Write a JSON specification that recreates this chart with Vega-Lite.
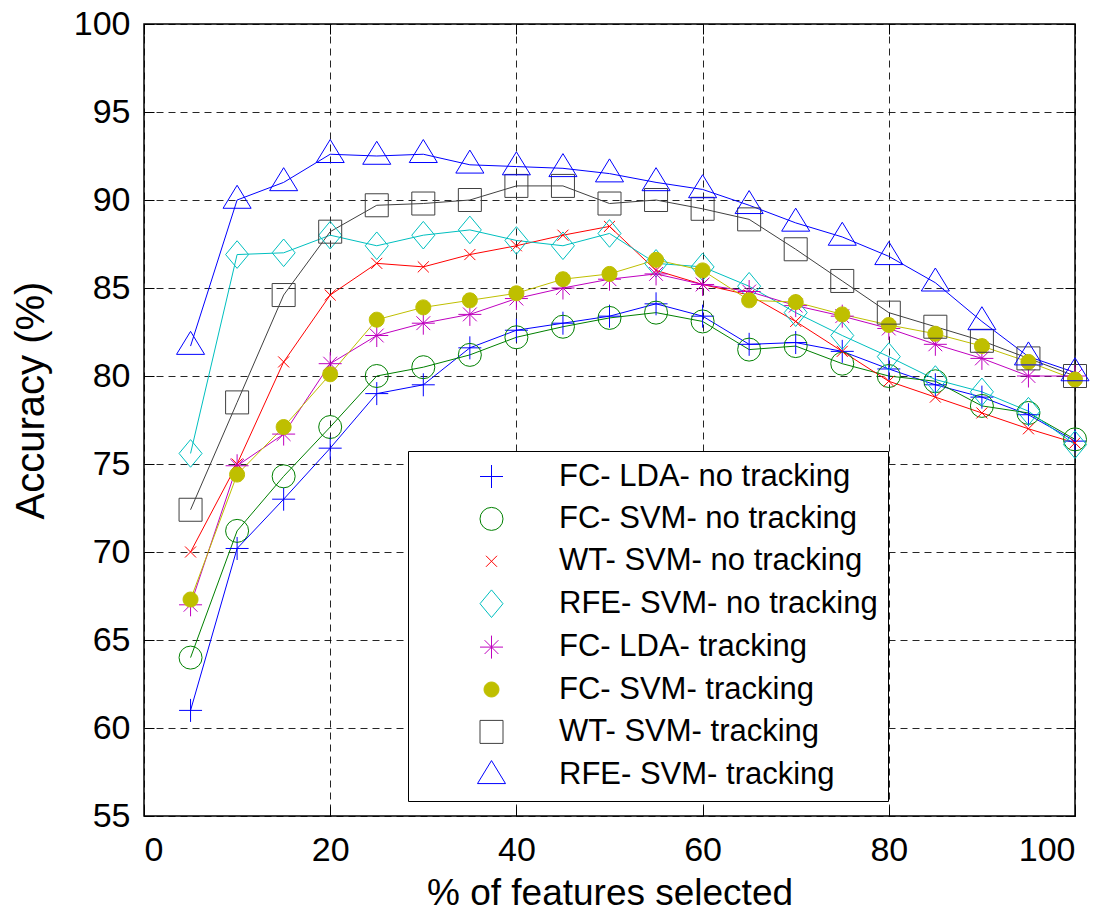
{
  "$schema": "https://vega.github.io/schema/vega-lite/v6.json",
  "width": 931,
  "height": 792,
  "autosize": {"type": "none"},
  "padding": {"left": 144, "top": 24, "right": 43, "bottom": 98},
  "background": "white",
  "config": {
    "view": {"stroke": "black", "strokeWidth": 1.5},
    "font": "Liberation Sans",
    "axis": {
      "labelFont": "Liberation Sans",
      "titleFont": "Liberation Sans",
      "labelColor": "black",
      "titleColor": "black",
      "titleFontWeight": "normal",
      "gridColor": "black",
      "gridOpacity": 0.85,
      "gridDash": [7, 5],
      "gridWidth": 1,
      "domain": false,
      "ticks": true,
      "tickColor": "black",
      "tickSize": -10,
      "tickWidth": 1
    }
  },
  "resolve": {"axis": {"x": "independent", "y": "independent"}},
  "datasets": {
    "acc": [
      {"pct": 5, "acc": 61.0, "series": "FC- LDA- no tracking"},
      {"pct": 10, "acc": 70.2, "series": "FC- LDA- no tracking"},
      {"pct": 15, "acc": 73.0, "series": "FC- LDA- no tracking"},
      {"pct": 20, "acc": 75.9, "series": "FC- LDA- no tracking"},
      {"pct": 25, "acc": 79.0, "series": "FC- LDA- no tracking"},
      {"pct": 30, "acc": 79.5, "series": "FC- LDA- no tracking"},
      {"pct": 35, "acc": 81.6, "series": "FC- LDA- no tracking"},
      {"pct": 40, "acc": 82.6, "series": "FC- LDA- no tracking"},
      {"pct": 45, "acc": 83.0, "series": "FC- LDA- no tracking"},
      {"pct": 50, "acc": 83.4, "series": "FC- LDA- no tracking"},
      {"pct": 55, "acc": 84.1, "series": "FC- LDA- no tracking"},
      {"pct": 60, "acc": 83.4, "series": "FC- LDA- no tracking"},
      {"pct": 65, "acc": 81.8, "series": "FC- LDA- no tracking"},
      {"pct": 70, "acc": 81.9, "series": "FC- LDA- no tracking"},
      {"pct": 75, "acc": 81.4, "series": "FC- LDA- no tracking"},
      {"pct": 80, "acc": 80.4, "series": "FC- LDA- no tracking"},
      {"pct": 85, "acc": 79.5, "series": "FC- LDA- no tracking"},
      {"pct": 90, "acc": 78.8, "series": "FC- LDA- no tracking"},
      {"pct": 95, "acc": 77.8, "series": "FC- LDA- no tracking"},
      {"pct": 100, "acc": 76.3, "series": "FC- LDA- no tracking"},

      {"pct": 5, "acc": 64.0, "series": "FC- SVM- no tracking"},
      {"pct": 10, "acc": 71.2, "series": "FC- SVM- no tracking"},
      {"pct": 15, "acc": 74.3, "series": "FC- SVM- no tracking"},
      {"pct": 20, "acc": 77.1, "series": "FC- SVM- no tracking"},
      {"pct": 25, "acc": 80.0, "series": "FC- SVM- no tracking"},
      {"pct": 30, "acc": 80.5, "series": "FC- SVM- no tracking"},
      {"pct": 35, "acc": 81.2, "series": "FC- SVM- no tracking"},
      {"pct": 40, "acc": 82.2, "series": "FC- SVM- no tracking"},
      {"pct": 45, "acc": 82.8, "series": "FC- SVM- no tracking"},
      {"pct": 50, "acc": 83.3, "series": "FC- SVM- no tracking"},
      {"pct": 55, "acc": 83.6, "series": "FC- SVM- no tracking"},
      {"pct": 60, "acc": 83.1, "series": "FC- SVM- no tracking"},
      {"pct": 65, "acc": 81.5, "series": "FC- SVM- no tracking"},
      {"pct": 70, "acc": 81.7, "series": "FC- SVM- no tracking"},
      {"pct": 75, "acc": 80.7, "series": "FC- SVM- no tracking"},
      {"pct": 80, "acc": 80.0, "series": "FC- SVM- no tracking"},
      {"pct": 85, "acc": 79.7, "series": "FC- SVM- no tracking"},
      {"pct": 90, "acc": 78.3, "series": "FC- SVM- no tracking"},
      {"pct": 95, "acc": 77.9, "series": "FC- SVM- no tracking"},
      {"pct": 100, "acc": 76.4, "series": "FC- SVM- no tracking"},

      {"pct": 5, "acc": 70.0, "series": "WT- SVM- no tracking"},
      {"pct": 10, "acc": 75.0, "series": "WT- SVM- no tracking"},
      {"pct": 15, "acc": 80.8, "series": "WT- SVM- no tracking"},
      {"pct": 20, "acc": 84.6, "series": "WT- SVM- no tracking"},
      {"pct": 25, "acc": 86.4, "series": "WT- SVM- no tracking"},
      {"pct": 30, "acc": 86.2, "series": "WT- SVM- no tracking"},
      {"pct": 35, "acc": 86.9, "series": "WT- SVM- no tracking"},
      {"pct": 40, "acc": 87.4, "series": "WT- SVM- no tracking"},
      {"pct": 45, "acc": 88.0, "series": "WT- SVM- no tracking"},
      {"pct": 50, "acc": 88.5, "series": "WT- SVM- no tracking"},
      {"pct": 55, "acc": 86.0, "series": "WT- SVM- no tracking"},
      {"pct": 60, "acc": 85.2, "series": "WT- SVM- no tracking"},
      {"pct": 65, "acc": 84.6, "series": "WT- SVM- no tracking"},
      {"pct": 70, "acc": 83.1, "series": "WT- SVM- no tracking"},
      {"pct": 75, "acc": 81.4, "series": "WT- SVM- no tracking"},
      {"pct": 80, "acc": 79.7, "series": "WT- SVM- no tracking"},
      {"pct": 85, "acc": 78.8, "series": "WT- SVM- no tracking"},
      {"pct": 90, "acc": 77.9, "series": "WT- SVM- no tracking"},
      {"pct": 95, "acc": 77.0, "series": "WT- SVM- no tracking"},
      {"pct": 100, "acc": 76.2, "series": "WT- SVM- no tracking"},

      {"pct": 5, "acc": 75.6, "series": "RFE- SVM- no tracking"},
      {"pct": 10, "acc": 86.9, "series": "RFE- SVM- no tracking"},
      {"pct": 15, "acc": 87.0, "series": "RFE- SVM- no tracking"},
      {"pct": 20, "acc": 88.0, "series": "RFE- SVM- no tracking"},
      {"pct": 25, "acc": 87.4, "series": "RFE- SVM- no tracking"},
      {"pct": 30, "acc": 88.0, "series": "RFE- SVM- no tracking"},
      {"pct": 35, "acc": 88.3, "series": "RFE- SVM- no tracking"},
      {"pct": 40, "acc": 87.7, "series": "RFE- SVM- no tracking"},
      {"pct": 45, "acc": 87.4, "series": "RFE- SVM- no tracking"},
      {"pct": 50, "acc": 88.1, "series": "RFE- SVM- no tracking"},
      {"pct": 55, "acc": 86.4, "series": "RFE- SVM- no tracking"},
      {"pct": 60, "acc": 86.2, "series": "RFE- SVM- no tracking"},
      {"pct": 65, "acc": 85.1, "series": "RFE- SVM- no tracking"},
      {"pct": 70, "acc": 83.6, "series": "RFE- SVM- no tracking"},
      {"pct": 75, "acc": 82.3, "series": "RFE- SVM- no tracking"},
      {"pct": 80, "acc": 81.1, "series": "RFE- SVM- no tracking"},
      {"pct": 85, "acc": 79.8, "series": "RFE- SVM- no tracking"},
      {"pct": 90, "acc": 79.1, "series": "RFE- SVM- no tracking"},
      {"pct": 95, "acc": 78.0, "series": "RFE- SVM- no tracking"},
      {"pct": 100, "acc": 76.1, "series": "RFE- SVM- no tracking"},

      {"pct": 5, "acc": 67.0, "series": "FC- LDA- tracking"},
      {"pct": 10, "acc": 74.9, "series": "FC- LDA- tracking"},
      {"pct": 15, "acc": 76.7, "series": "FC- LDA- tracking"},
      {"pct": 20, "acc": 80.7, "series": "FC- LDA- tracking"},
      {"pct": 25, "acc": 82.3, "series": "FC- LDA- tracking"},
      {"pct": 30, "acc": 83.0, "series": "FC- LDA- tracking"},
      {"pct": 35, "acc": 83.5, "series": "FC- LDA- tracking"},
      {"pct": 40, "acc": 84.4, "series": "FC- LDA- tracking"},
      {"pct": 45, "acc": 85.0, "series": "FC- LDA- tracking"},
      {"pct": 50, "acc": 85.5, "series": "FC- LDA- tracking"},
      {"pct": 55, "acc": 85.8, "series": "FC- LDA- tracking"},
      {"pct": 60, "acc": 85.2, "series": "FC- LDA- tracking"},
      {"pct": 65, "acc": 84.8, "series": "FC- LDA- tracking"},
      {"pct": 70, "acc": 84.0, "series": "FC- LDA- tracking"},
      {"pct": 75, "acc": 83.4, "series": "FC- LDA- tracking"},
      {"pct": 80, "acc": 82.7, "series": "FC- LDA- tracking"},
      {"pct": 85, "acc": 81.8, "series": "FC- LDA- tracking"},
      {"pct": 90, "acc": 81.0, "series": "FC- LDA- tracking"},
      {"pct": 95, "acc": 80.0, "series": "FC- LDA- tracking"},
      {"pct": 100, "acc": 80.0, "series": "FC- LDA- tracking"},

      {"pct": 5, "acc": 67.3, "series": "FC- SVM- tracking"},
      {"pct": 10, "acc": 74.4, "series": "FC- SVM- tracking"},
      {"pct": 15, "acc": 77.1, "series": "FC- SVM- tracking"},
      {"pct": 20, "acc": 80.1, "series": "FC- SVM- tracking"},
      {"pct": 25, "acc": 83.2, "series": "FC- SVM- tracking"},
      {"pct": 30, "acc": 83.9, "series": "FC- SVM- tracking"},
      {"pct": 35, "acc": 84.3, "series": "FC- SVM- tracking"},
      {"pct": 40, "acc": 84.7, "series": "FC- SVM- tracking"},
      {"pct": 45, "acc": 85.5, "series": "FC- SVM- tracking"},
      {"pct": 50, "acc": 85.8, "series": "FC- SVM- tracking"},
      {"pct": 55, "acc": 86.6, "series": "FC- SVM- tracking"},
      {"pct": 60, "acc": 86.0, "series": "FC- SVM- tracking"},
      {"pct": 65, "acc": 84.3, "series": "FC- SVM- tracking"},
      {"pct": 70, "acc": 84.2, "series": "FC- SVM- tracking"},
      {"pct": 75, "acc": 83.5, "series": "FC- SVM- tracking"},
      {"pct": 80, "acc": 82.9, "series": "FC- SVM- tracking"},
      {"pct": 85, "acc": 82.4, "series": "FC- SVM- tracking"},
      {"pct": 90, "acc": 81.7, "series": "FC- SVM- tracking"},
      {"pct": 95, "acc": 80.8, "series": "FC- SVM- tracking"},
      {"pct": 100, "acc": 79.8, "series": "FC- SVM- tracking"},

      {"pct": 5, "acc": 72.4, "series": "WT- SVM- tracking"},
      {"pct": 10, "acc": 78.5, "series": "WT- SVM- tracking"},
      {"pct": 15, "acc": 84.6, "series": "WT- SVM- tracking"},
      {"pct": 20, "acc": 88.2, "series": "WT- SVM- tracking"},
      {"pct": 25, "acc": 89.7, "series": "WT- SVM- tracking"},
      {"pct": 30, "acc": 89.8, "series": "WT- SVM- tracking"},
      {"pct": 35, "acc": 90.0, "series": "WT- SVM- tracking"},
      {"pct": 40, "acc": 90.8, "series": "WT- SVM- tracking"},
      {"pct": 45, "acc": 90.8, "series": "WT- SVM- tracking"},
      {"pct": 50, "acc": 89.8, "series": "WT- SVM- tracking"},
      {"pct": 55, "acc": 90.0, "series": "WT- SVM- tracking"},
      {"pct": 60, "acc": 89.5, "series": "WT- SVM- tracking"},
      {"pct": 65, "acc": 88.9, "series": "WT- SVM- tracking"},
      {"pct": 70, "acc": 87.2, "series": "WT- SVM- tracking"},
      {"pct": 75, "acc": 85.4, "series": "WT- SVM- tracking"},
      {"pct": 80, "acc": 83.6, "series": "WT- SVM- tracking"},
      {"pct": 85, "acc": 82.8, "series": "WT- SVM- tracking"},
      {"pct": 90, "acc": 82.0, "series": "WT- SVM- tracking"},
      {"pct": 95, "acc": 81.0, "series": "WT- SVM- tracking"},
      {"pct": 100, "acc": 80.0, "series": "WT- SVM- tracking"},

      {"pct": 5, "acc": 81.7, "series": "RFE- SVM- tracking"},
      {"pct": 10, "acc": 90.0, "series": "RFE- SVM- tracking"},
      {"pct": 15, "acc": 91.0, "series": "RFE- SVM- tracking"},
      {"pct": 20, "acc": 92.6, "series": "RFE- SVM- tracking"},
      {"pct": 25, "acc": 92.5, "series": "RFE- SVM- tracking"},
      {"pct": 30, "acc": 92.6, "series": "RFE- SVM- tracking"},
      {"pct": 35, "acc": 92.0, "series": "RFE- SVM- tracking"},
      {"pct": 40, "acc": 91.9, "series": "RFE- SVM- tracking"},
      {"pct": 45, "acc": 91.8, "series": "RFE- SVM- tracking"},
      {"pct": 50, "acc": 91.5, "series": "RFE- SVM- tracking"},
      {"pct": 55, "acc": 91.0, "series": "RFE- SVM- tracking"},
      {"pct": 60, "acc": 90.6, "series": "RFE- SVM- tracking"},
      {"pct": 65, "acc": 89.7, "series": "RFE- SVM- tracking"},
      {"pct": 70, "acc": 88.7, "series": "RFE- SVM- tracking"},
      {"pct": 75, "acc": 87.9, "series": "RFE- SVM- tracking"},
      {"pct": 80, "acc": 86.8, "series": "RFE- SVM- tracking"},
      {"pct": 85, "acc": 85.3, "series": "RFE- SVM- tracking"},
      {"pct": 90, "acc": 83.1, "series": "RFE- SVM- tracking"},
      {"pct": 95, "acc": 81.1, "series": "RFE- SVM- tracking"},
      {"pct": 100, "acc": 80.2, "series": "RFE- SVM- tracking"}
    ]
  },
  "data": {"name": "acc"},
  "encoding": {
    "stroke": {
      "field": "series",
      "type": "nominal",
      "scale": {
        "domain": ["FC- LDA- no tracking", "FC- SVM- no tracking", "WT- SVM- no tracking", "RFE- SVM- no tracking", "FC- LDA- tracking", "FC- SVM- tracking", "WT- SVM- tracking", "RFE- SVM- tracking"],
        "range": ["#0000ff", "#008000", "#ff0000", "#00bfbf", "#bf00bf", "#bfbf00", "#404040", "#0000ff"]
      },
      "legend": {
        "orient": "none",
        "legendX": 264,
        "legendY": 427,
        "title": null,
        "padding": 10,
        "strokeColor": "black",
        "fillColor": "white",
        "symbolSize": 529,
        "symbolOffset": 58,
        "symbolStrokeWidth": 1,
        "symbolOpacity": 1,
        "labelOffset": 52,
        "labelFontSize": 31,
        "labelFont": "Liberation Sans",
        "labelColor": "black",
        "labelLimit": 1000,
        "rowPadding": 10.4
      }
    }
  },
  "layer": [
    {
      "mark": {"type": "line", "strokeWidth": 1, "opacity": 1},
      "encoding": {
        "x": {
          "field": "pct",
          "type": "quantitative",
          "scale": {"domain": [0, 100], "nice": false, "zero": false},
          "axis": {
            "orient": "bottom",
            "grid": true,
            "values": [0, 20, 40, 60, 80, 100],
            "title": "% of features selected",
            "labelFontSize": 34,
            "titleFontSize": 37,
            "labelPadding": 27,
            "titlePadding": 8
          }
        },
        "y": {
          "field": "acc",
          "type": "quantitative",
          "scale": {"domain": [55, 100], "nice": false, "zero": false},
          "axis": {
            "orient": "left",
            "grid": true,
            "values": [55, 60, 65, 70, 75, 80, 85, 90, 95, 100],
            "title": "Accuracy  (%)",
            "labelFontSize": 34,
            "titleFontSize": 40,
            "labelPadding": 24,
            "titlePadding": 22,
            "titleY": 376
          }
        }
      }
    },
    {
      "mark": {"type": "point", "strokeWidth": 1, "opacity": 1, "size": 529},
      "encoding": {
        "x": {
          "field": "pct",
          "type": "quantitative",
          "scale": {"domain": [0, 100], "nice": false, "zero": false},
          "axis": {"orient": "top", "grid": false, "labels": false, "title": null, "values": [0, 20, 40, 60, 80, 100]}
        },
        "y": {
          "field": "acc",
          "type": "quantitative",
          "scale": {"domain": [55, 100], "nice": false, "zero": false},
          "axis": {"orient": "right", "grid": false, "labels": false, "title": null, "values": [55, 60, 65, 70, 75, 80, 85, 90, 95, 100]}
        },
        "shape": {
          "field": "series",
          "type": "nominal",
          "scale": {
            "domain": ["FC- LDA- no tracking", "FC- SVM- no tracking", "WT- SVM- no tracking", "RFE- SVM- no tracking", "FC- LDA- tracking", "FC- SVM- tracking", "WT- SVM- tracking", "RFE- SVM- tracking"],
            "range": ["M-1,0L1,0M0,-1L0,1", "circle", "M-0.48,-0.48L0.48,0.48M-0.48,0.48L0.48,-0.48", "M-1,0L0,-1.2L1,0L0,1.2Z", "M-1,0L1,0M0,-1L0,1M-0.6,-0.6L0.6,0.6M-0.6,0.6L0.6,-0.6", "M-0.65,0A0.65,0.65,0,1,1,0.65,0A0.65,0.65,0,1,1,-0.65,0Z", "M-1,-1L1,-1L1,1L-1,1Z", "M0,-1.28L1.22,0.72L-1.22,0.72Z"]
          }
        },
        "fill": {
          "field": "series",
          "type": "nominal",
          "scale": {
            "domain": ["FC- LDA- no tracking", "FC- SVM- no tracking", "WT- SVM- no tracking", "RFE- SVM- no tracking", "FC- LDA- tracking", "FC- SVM- tracking", "WT- SVM- tracking", "RFE- SVM- tracking"],
            "range": ["transparent", "transparent", "transparent", "transparent", "transparent", "#bfbf00", "transparent", "transparent"]
          },
          "legend": null
        }
      }
    }
  ]
}
